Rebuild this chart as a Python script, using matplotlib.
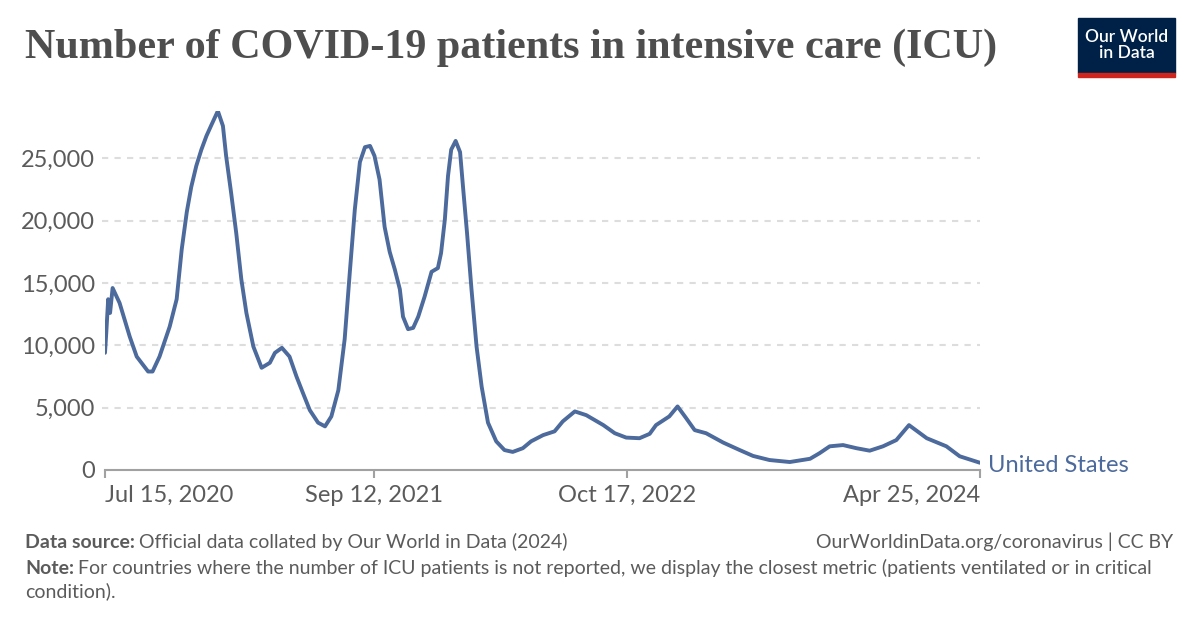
import matplotlib
matplotlib.use("Agg")
import matplotlib.pyplot as plt
from matplotlib.patches import Rectangle
import pandas as pd

# ICU patients, United States
dates = [
    "2020-07-15", "2020-07-17", "2020-07-20", "2020-07-23", "2020-07-27",
    "2020-08-07", "2020-08-23", "2020-09-03", "2020-09-21", "2020-09-28",
    "2020-10-09", "2020-10-25", "2020-11-05", "2020-11-13", "2020-11-21",
    "2020-11-28", "2020-12-06", "2020-12-14", "2020-12-22", "2020-12-30",
    "2021-01-09", "2021-01-17", "2021-01-22", "2021-01-30", "2021-02-07",
    "2021-02-15", "2021-02-23", "2021-03-06", "2021-03-19", "2021-04-01",
    "2021-04-09", "2021-04-20", "2021-05-02", "2021-05-13", "2021-05-23",
    "2021-06-03", "2021-06-16", "2021-06-27", "2021-07-07", "2021-07-18",
    "2021-07-28", "2021-08-05", "2021-08-13", "2021-08-21", "2021-08-29",
    "2021-09-06", "2021-09-13", "2021-09-21", "2021-09-29", "2021-10-07",
    "2021-10-15", "2021-10-23", "2021-10-28", "2021-11-05", "2021-11-13",
    "2021-11-21", "2021-12-01", "2021-12-12", "2021-12-22", "2021-12-27",
    "2022-01-02", "2022-01-07", "2022-01-12", "2022-01-19", "2022-01-26",
    "2022-01-31", "2022-02-06", "2022-02-13", "2022-02-21", "2022-03-01",
    "2022-03-11", "2022-03-24", "2022-04-06", "2022-04-19", "2022-05-05",
    "2022-05-18", "2022-06-06", "2022-06-24", "2022-07-07", "2022-07-26",
    "2022-08-13", "2022-09-09", "2022-09-27", "2022-10-15", "2022-11-05",
    "2022-11-21", "2022-12-01", "2022-12-22", "2023-01-04", "2023-01-17",
    "2023-01-31", "2023-02-18", "2023-03-17", "2023-04-12", "2023-05-03",
    "2023-05-29", "2023-06-30", "2023-08-01", "2023-08-16", "2023-09-01",
    "2023-09-22", "2023-10-13", "2023-11-03", "2023-11-24", "2023-12-15",
    "2024-01-04", "2024-02-01", "2024-03-03", "2024-03-24", "2024-04-25",
]
icu_patients = [
    9400, 11000, 13700, 12600, 14600,
    13400, 10700, 9100, 7900, 7900,
    9100, 11500, 13700, 17700, 20700,
    22700, 24400, 25700, 26800, 27700,
    28800, 27600, 25200, 22200, 19000,
    15300, 12600, 9900, 8200, 8600,
    9400, 9800, 9100, 7500, 6200,
    4800, 3800, 3500, 4300, 6400,
    10500, 15800, 20900, 24700, 25900,
    26000, 25200, 23300, 19500, 17500,
    16100, 14500, 12300, 11300, 11400,
    12300, 13900, 15900, 16200, 17400,
    20100, 23600, 25700, 26400, 25500,
    22500, 19000, 14500, 9900, 6700,
    3800, 2300, 1600, 1450, 1750,
    2300, 2800, 3100, 3900, 4700,
    4400, 3600, 2950, 2600, 2550,
    2900, 3600, 4300, 5100, 4200,
    3200, 2950, 2200, 1600, 1130,
    800, 640, 900, 1350, 1900,
    2000, 1750, 1550, 1900, 2400,
    3600, 2550, 1900, 1100, 580,
]
country = "United States"

y_ticks = [0, 5000, 10000, 15000, 20000, 25000]
x_tick_dates = ["2020-07-15", "2021-09-12", "2022-10-17", "2024-04-25"]
x_tick_labels = ["Jul 15, 2020", "Sep 12, 2021", "Oct 17, 2022", "Apr 25, 2024"]

title = "Number of COVID-19 patients in intensive care (ICU)"
source_text = "Official data collated by Our World in Data (2024)"
url_text = "OurWorldinData.org/coronavirus | CC BY"
note_text = ("For countries where the number of ICU patients is not reported, "
             "we display the closest metric (patients ventilated or in critical")
note_text2 = "condition)."

line_color = "#4c6a9c"
text_grey = "#5b5b5b"
axis_grey = "#a1a1a1"

plt.rcParams['font.family'] = ['Lato', 'DejaVu Sans']

W, H = 1200, 628
fig = plt.figure(figsize=(W / 100, H / 100), dpi=100)

# plot area in pixel coordinates: left 105, right 980, top 111, bottom 470
ax = fig.add_axes([105 / W, 1 - 470 / H, 875 / W, (470 - 111) / H])

x = pd.to_datetime(dates)
ax.plot(x, icu_patients, color=line_color, lw=2.8, solid_joinstyle='round',
        solid_capstyle='round', zorder=3)

ax.set_xlim(pd.Timestamp(x_tick_dates[0]), pd.Timestamp(x_tick_dates[-1]))
ax.set_ylim(0, max(icu_patients))

ax.set_yticks(y_ticks)
ax.set_yticklabels([f"{v:,}" for v in y_ticks])
ax.tick_params(axis='y', length=0, pad=7, labelsize=17, labelcolor=text_grey)
for v in y_ticks[1:]:
    ax.axhline(v, color="#dddddd", lw=1.5, ls=(0, (3, 3)), zorder=1,
               xmin=-0.003, clip_on=False)

ax.set_xticks(pd.to_datetime(x_tick_dates))
ax.set_xticklabels(x_tick_labels)
ax.tick_params(axis='x', length=6, width=1.5, color=axis_grey, pad=5,
               labelsize=17, labelcolor=text_grey)
tl = ax.get_xticklabels()
tl[0].set_ha('left')
tl[-1].set_ha('right')

for s in ['top', 'right', 'left']:
    ax.spines[s].set_visible(False)
ax.spines['bottom'].set_color(axis_grey)
ax.spines['bottom'].set_linewidth(1.5)

# series label at line end
ax.annotate(country, xy=(x[-1], icu_patients[-1]), xytext=(6, -2),
            textcoords='offset points', va='center', ha='left',
            color=line_color, fontsize=17, annotation_clip=False)

# title
fig.text(25 / W, 1 - 48 / H, title, fontsize=30.3, family='Liberation Serif',
         fontweight='bold', color="#4e4e4e", va='center', ha='left')

# logo
fig.patches.append(Rectangle((1078 / W, 1 - 73 / H), 97 / W, 55 / H,
                             transform=fig.transFigure, color="#002147"))
fig.patches.append(Rectangle((1078 / W, 1 - 77 / H), 97 / W, 4 / H,
                             transform=fig.transFigure, color="#ce261e"))
fig.text(1126.5 / W, 1 - 45 / H, "Our World\nin Data", color='white',
         fontsize=12.5, ha='center', va='center', linespacing=1.0,
         fontweight='semibold')

# footer: bold lead-in followed by normal text
renderer = fig.canvas.get_renderer()


def lead_text(y, bold, rest, size=14):
    t = fig.text(25 / W, 1 - y / H, bold, fontsize=size, color=text_grey,
                 fontweight='bold', va='center', ha='left')
    wpx = t.get_window_extent(renderer).width
    fig.text((25 + wpx + 4) / W, 1 - y / H, rest, fontsize=size,
             color=text_grey, va='center', ha='left')


lead_text(542, "Data source:", source_text)
fig.text(1173 / W, 1 - 542 / H, url_text, fontsize=14, color=text_grey,
         va='center', ha='right')
lead_text(568, "Note:", note_text)
fig.text(25 / W, 1 - 591 / H, note_text2, fontsize=14, color=text_grey,
         va='center', ha='left')

fig.savefig("out.png", dpi=100)
